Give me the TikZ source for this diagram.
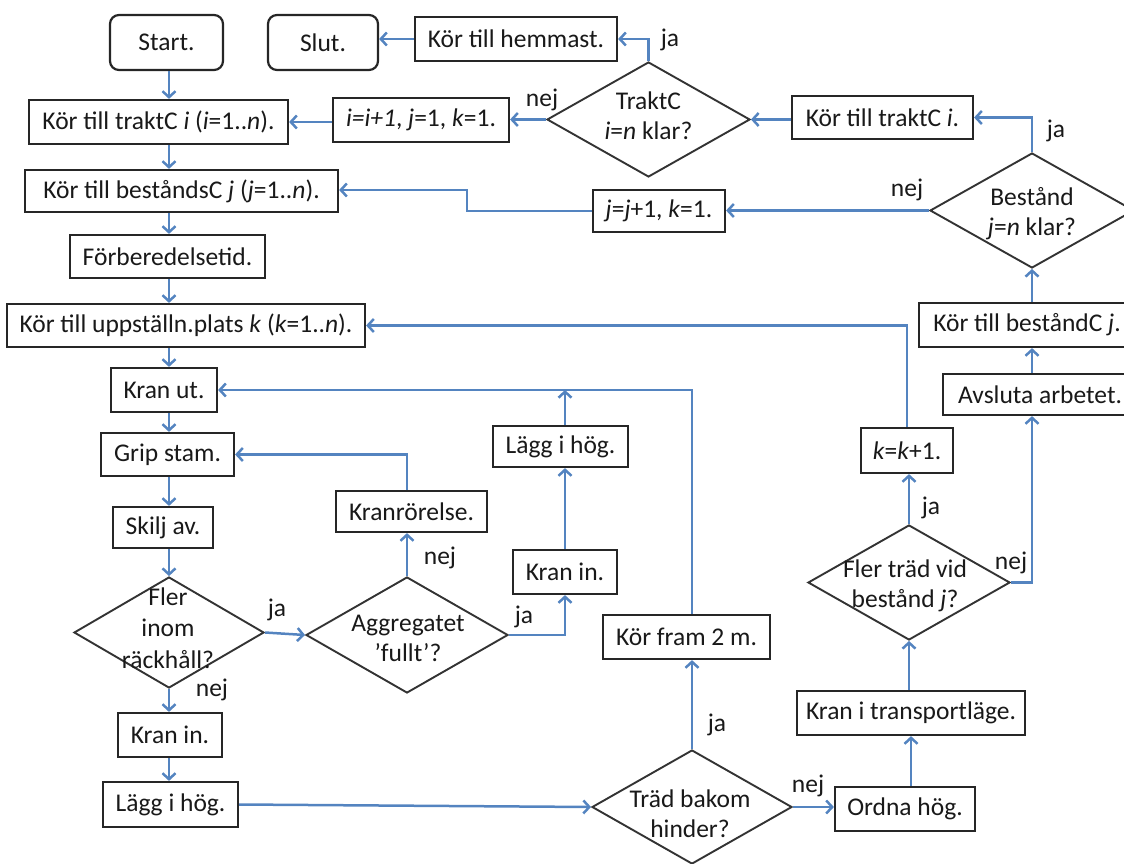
\documentclass[tikz,border=0pt]{standalone}
\usepackage{fontspec}
\setmainfont{Carlito}
\usetikzlibrary{shapes.geometric,arrows.meta}
\definecolor{flow}{RGB}{84,132,192}
\begin{document}
\begin{tikzpicture}[x=1pt,y=-1pt,
  every node/.style={font=\fontsize{25.5}{30}\selectfont, text=black!90},
  box/.style={draw=black!85, line width=2.2pt, fill=white, inner sep=0pt, align=center},
  term/.style={box, rounded corners=9pt},
  dia/.style={diamond, draw=black!80, line width=1.9pt, inner sep=0pt, fill=white},
  arr/.style={draw=flow, line width=2.5pt, -{Straight Barb[length=6pt,width=13pt]}},
  lab/.style={inner sep=0pt, align=center}]
\useasboundingbox (0,0) rectangle (1124,864);

% left column x position for the vertical connectors
\coordinate (colx) at (169,0);

% terminals and top row
\node[term, minimum width=113, minimum height=55] (start) at (166.5,42.5) {Start.};
\node[term, minimum width=110, minimum height=55] (slut) at (323,42.5) {Slut.};
\node[box, minimum width=202, minimum height=44] (hem) at (516,39) {Kör till hemmast.};
\node[dia, minimum width=203, minimum height=115] (dT) at (648.5,119.5) {};
\node[lab] (dTt) at (648.5,116) {TraktC\\\textit{i}=\textit{n} klar?};
\node[box, minimum width=176, minimum height=44] (inc1) at (421,120) {\textit{i=i+1}, \textit{j}=1, \textit{k}=1.};
\node[box, minimum width=259, minimum height=44] (ktr) at (158.5,122) {Kör till traktC \textit{i} (\textit{i}=1..\textit{n}).};
\node[box, minimum width=313, minimum height=42] (kbs) at (181.5,191) {Kör till beståndsC \textit{j} (\textit{j}=1..\textit{n}).};
\node[box, minimum width=132, minimum height=42] (inc2) at (659,211) {\textit{j}=\textit{j}+1, \textit{k}=1.};
\node[box, minimum width=181, minimum height=43] (ktr2) at (882.5,117.5) {Kör till traktC \textit{i}.};
\node[dia, minimum width=204, minimum height=115] (dB) at (1032,210.5) {};
\node[lab] (dBt) at (1032,214) {Bestånd\\\textit{j}=\textit{n} klar?};

% right column
\node[box, minimum width=216, minimum height=44] (kb2) at (1027,325) {Kör till beståndC \textit{j}.};
\node[box, minimum width=194, minimum height=41] (avs) at (1040,394.5) {Avsluta arbetet.};
\node[box, minimum width=92, minimum height=45] (kk) at (907,450.5) {\textit{k}=\textit{k}+1.};
\node[dia, minimum width=202, minimum height=115] (dF) at (909,582.5) {};
\node[lab] (dFt) at (905,586) {Fler träd vid\\bestånd \textit{j}?};
\node[box, minimum width=228, minimum height=44] (ktl) at (911,713) {Kran i transportläge.};
\node[box, minimum width=140, minimum height=44] (ord) at (905,809) {Ordna hög.};
\node[dia, minimum width=200, minimum height=114] (dH) at (692,807) {};
\node[lab] (dHt) at (690,814) {Träd bakom\\hinder?};
\node[box, minimum width=167, minimum height=44] (kf) at (686.5,637) {Kör fram 2 m.};

% left column
\node[box, minimum width=195, minimum height=43] (forb) at (167.5,256.5) {Förberedelsetid.};
\node[box, minimum width=358, minimum height=43] (kup) at (186,325.5) {Kör till uppställn.plats \textit{k} (\textit{k}=1..\textit{n}).};
\node[box, minimum width=106, minimum height=44] (kut) at (164,390) {Kran ut.};
\node[box, minimum width=133, minimum height=43] (grip) at (167.5,454.5) {Grip stam.};
\node[box, minimum width=100, minimum height=41] (skilj) at (163,527.5) {Skilj av.};
\node[dia, minimum width=190, minimum height=111] (dR) at (169,632.5) {};
\node[lab, font=\fontsize{25.5}{31.5}\selectfont] (dRt) at (168,628) {Fler\\inom\\räckhåll?};
\node[box, minimum width=104, minimum height=44] (kin1) at (170,735) {Kran in.};
\node[box, minimum width=135, minimum height=45] (lag1) at (170.5,804.5) {Lägg i hög.};

% middle part
\node[dia, minimum width=202, minimum height=116] (dA) at (407,635) {};
\node[lab] (dAt) at (408,638) {Aggregatet\\’fullt’?};
\node[box, minimum width=151, minimum height=41] (krr) at (411.5,511.5) {Kranrörelse.};
\node[box, minimum width=135, minimum height=41] (lag2) at (560.5,446.5) {Lägg i hög.};
\node[box, minimum width=104, minimum height=44] (kin2) at (565,572) {Kran in.};

% connectors: left column
\draw[arr] (start.south -| colx) -- (ktr.north -| colx);
\draw[arr] (ktr.south -| colx) -- (kbs.north -| colx);
\draw[arr] (kbs.south -| colx) -- (forb.north -| colx);
\draw[arr] (forb.south -| colx) -- (kup.north -| colx);
\draw[arr] (kup.south -| colx) -- (kut.north -| colx);
\draw[arr] (kut.south -| colx) -- (grip.north -| colx);
\draw[arr] (grip.south -| colx) -- (skilj.north -| colx);
\draw[arr] (skilj.south -| colx) -- (dR.north);
\draw[arr] (dR.south) -- (kin1.north -| dR.south);
\draw[arr] (kin1.south -| colx) -- (lag1.north -| colx);

% connectors: top loops
\draw[arr] (inc1.west |- ktr.east) -- (ktr.east);
\draw[arr] (dT.west) -- (dT.west -| inc1.east);
\draw[arr] (dT.north) |- (hem.east);
\draw[arr] (hem.west) -- (hem.west -| slut.east);
\draw[arr] (ktr2.west |- dT.east) -- (dT.east);
\draw[arr] (dB.north) |- (ktr2.east);
\draw[arr] (dB.west) -- (dB.west -| inc2.east);
\coordinate (jog) at (467,190);
\draw[arr] (inc2.west) -| (jog) -- (kbs.east |- jog);

% connectors: right column
\draw[arr] (kb2.north -| dB.south) -- (dB.south);
\draw[arr] (avs.north -| dB.south) -- (kb2.south -| dB.south);
\draw[arr] (kk.north) |- (kup.east);
\draw[arr] (dF.north) -- (dF.north |- kk.south);
\draw[arr] (dF.east) -| (avs.south -| dB.south);
\draw[arr] (ktl.north -| dF.south) -- (dF.south);
\draw[arr] (ord.north -| ktl.north) -- (ktl.south);
\draw[arr] (dH.east) -- (ord.west |- dH.east);
\draw[arr] (dH.north) -- (dH.north |- kf.south);
\draw[arr] (kf.north -| dH.north) |- (kut.east);
\draw[arr] (lag1.east) -- (dH.west);

% connectors: middle part
\draw[arr] (dR.east) -- (dA.west);
\draw[arr] (dA.north) -- (dA.north |- krr.south);
\draw[arr] (krr.north -| dA.north) |- (grip.east);
\draw[arr] (dA.east) -| (kin2.south);
\draw[arr] (kin2.north) -- (kin2.north |- lag2.south);
\draw[arr] (lag2.north -| kin2.north) -- (kin2.north |- kut.east);

% branch labels
\node[lab] (jaT) at (670,40) {ja};
\node[lab] (nejT) at (542,100) {nej};
\node[lab] (jaB) at (1056,131) {ja};
\node[lab] (nejB) at (907,190) {nej};
\node[lab] (jaF) at (931,508) {ja};
\node[lab] (nejF) at (1011,563) {nej};
\node[lab] (jaH) at (717,725) {ja};
\node[lab] (nejH) at (808,786) {nej};
\node[lab] (jaR) at (277,610) {ja};
\node[lab] (nejR) at (212,690) {nej};
\node[lab] (nejA) at (440,558) {nej};
\node[lab] (jaA) at (524,617) {ja};
\end{tikzpicture}
\end{document}
